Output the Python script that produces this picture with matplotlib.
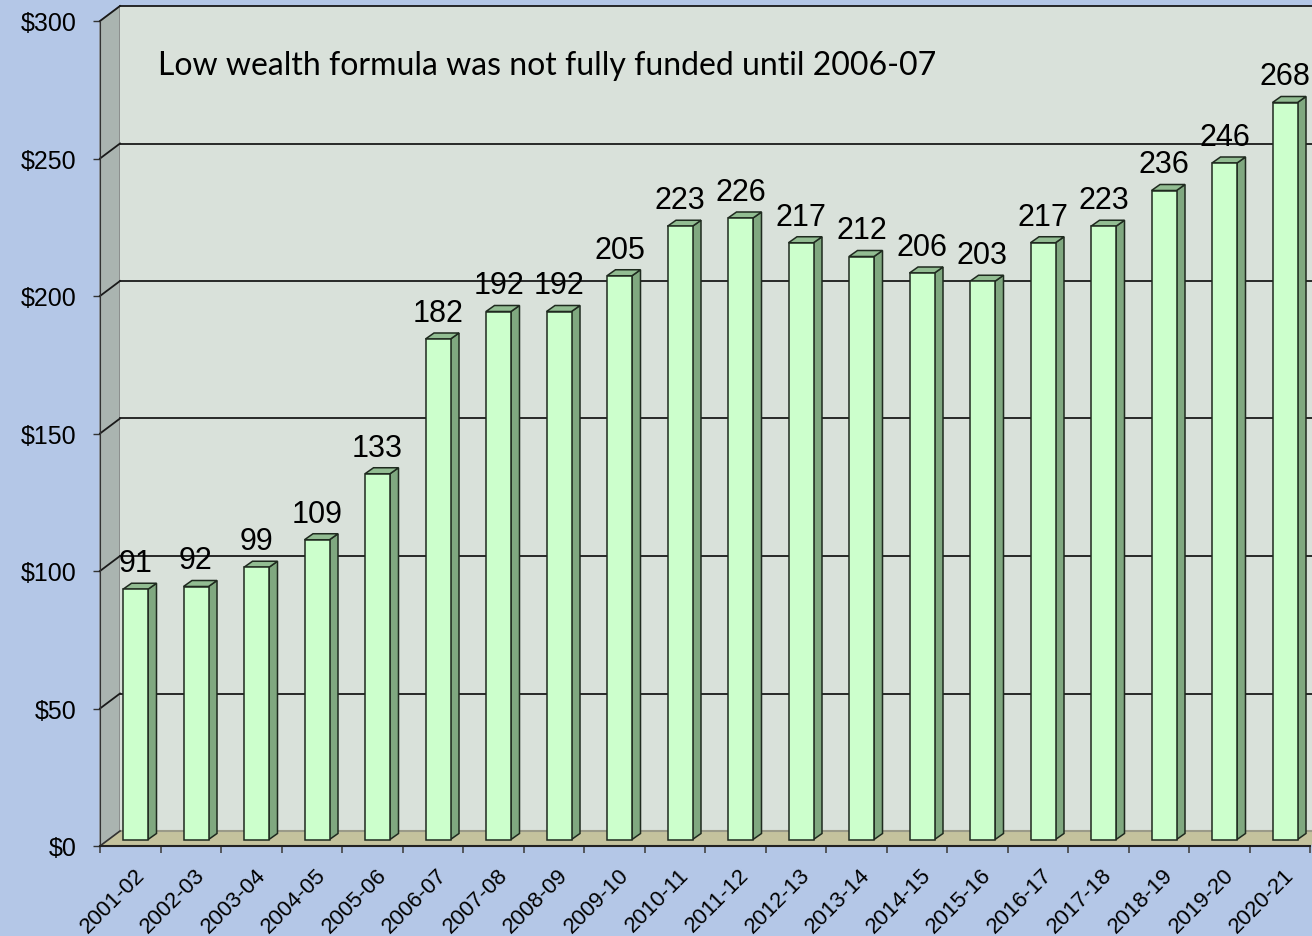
import numpy as np
import matplotlib.pyplot as plt
from matplotlib.patches import Polygon

years = ['2001-02', '2002-03', '2003-04', '2004-05', '2005-06', '2006-07',
         '2007-08', '2008-09', '2009-10', '2010-11', '2011-12', '2012-13',
         '2013-14', '2014-15', '2015-16', '2016-17', '2017-18', '2018-19',
         '2019-20', '2020-21']
values = [91, 92, 99, 109, 133, 182, 192, 192, 205, 223, 226, 217, 212, 206,
          203, 217, 223, 236, 246, 268]
yticks = [0, 50, 100, 150, 200, 250, 300]
note = 'Low wealth formula was not fully funded until 2006-07'

W, H = 1312, 937
fig = plt.figure(figsize=(W / 100, H / 100), dpi=100, facecolor='#b4c7e7')
ax = fig.add_axes([100 / W, (H - 847) / H, 1210 / W, 825 / H])
n = len(values)
ymax = yticks[-1]
ax.set_xlim(0, n)
ax.set_ylim(0, ymax)
ax.patch.set_visible(False)

# pixel sizes in data units (for the fake 3d look)
px = n / 1210
py = ymax / 825
dx, dy = 20 * px, 15 * py          # wall depth
bdx, bdy = 8.5 * px, 6 * py        # bar depth
bw = 25 * px
boff = 23 * px
blift = 6.5 * py

# walls + floor
ax.add_patch(Polygon([(0, 0), (dx, dy), (dx, ymax + dy), (0, ymax)],
                     closed=True, fc='#aab4b0', ec='#808080', lw=1, zorder=1, clip_on=False))
ax.add_patch(Polygon([(dx, dy), (n + dx, dy), (n + dx, ymax + dy), (dx, ymax + dy)],
                     closed=True, fc='#d9e1da', ec='none', zorder=1, clip_on=False))
ax.add_patch(Polygon([(0, 0), (dx, dy), (n + dx, dy), (n, 0)],
                     closed=True, fc='#c4c29d', ec='none', zorder=2, clip_on=False))
ax.plot([dx, n + dx], [dy, dy], color='#9a9a88', lw=1.5, zorder=2, clip_on=False)
ax.plot([0, dx], [0, dy], color='#333333', lw=1.2, zorder=2, clip_on=False)

for g in yticks[1:]:
    ax.plot([dx, n + dx], [g + dy, g + dy], color='#1a1a1a', lw=1.3, zorder=2, clip_on=False)
    ax.plot([0, dx], [g, g + dy], color='#1a1a1a', lw=1.3, zorder=2, clip_on=False)

# bars
for i, v in enumerate(values):
    x0 = i + boff
    y0 = blift
    front = [(x0, y0), (x0 + bw, y0), (x0 + bw, y0 + v), (x0, y0 + v)]
    side = [(x0 + bw, y0), (x0 + bw + bdx, y0 + bdy), (x0 + bw + bdx, y0 + v + bdy), (x0 + bw, y0 + v)]
    top = [(x0, y0 + v), (x0 + bw, y0 + v), (x0 + bw + bdx, y0 + v + bdy), (x0 + bdx, y0 + v + bdy)]
    ax.add_patch(Polygon(side, closed=True, fc='#80a880', ec='#1f2a1f', lw=1.1, zorder=3, clip_on=False))
    ax.add_patch(Polygon(top, closed=True, fc='#92bd92', ec='#1f2a1f', lw=1.1, zorder=3, clip_on=False))
    ax.add_patch(Polygon(front, closed=True, fc='#ccffcc', ec='#1f2a1f', lw=1.1, zorder=3, clip_on=False))
    ax.text(x0 + bw / 2, y0 + v + 18 * py, str(v), ha='center', va='baseline',
            fontsize=22, family='Liberation Sans', color='black', zorder=4)

ax.text(58 * px, (847 - 75) * py, note, ha='left', va='baseline',
        fontsize=23, family='Lato', color='black', zorder=4)

# axes
for s in ['top', 'right']:
    ax.spines[s].set_visible(False)
ax.spines['left'].set_color('#333333')
ax.spines['bottom'].set_color('#222222')
ax.spines['bottom'].set_linewidth(1.5)
ax.spines['left'].set_zorder(5)
ax.spines['bottom'].set_zorder(5)

ax.set_yticks(yticks)
ax.set_yticklabels(['$' + str(t) for t in yticks])
ax.tick_params(axis='y', direction='out', length=5, width=1, color='#333333', pad=12,
               labelsize=18, labelfontfamily='Liberation Sans')

ax.set_xticks(np.arange(n) + 0.56)
ax.set_xticklabels(years)
ax.set_xticks(np.arange(n + 1), minor=True)
ax.tick_params(axis='x', which='major', length=0, pad=13, labelsize=16,
               labelfontfamily='Liberation Sans', labelrotation=45)
ax.tick_params(axis='x', which='minor', length=5, width=1.2, color='#444444')
plt.setp(ax.get_xticklabels(), ha='right', rotation_mode='anchor')

fig.savefig('out.png', dpi=100, facecolor=fig.get_facecolor())
